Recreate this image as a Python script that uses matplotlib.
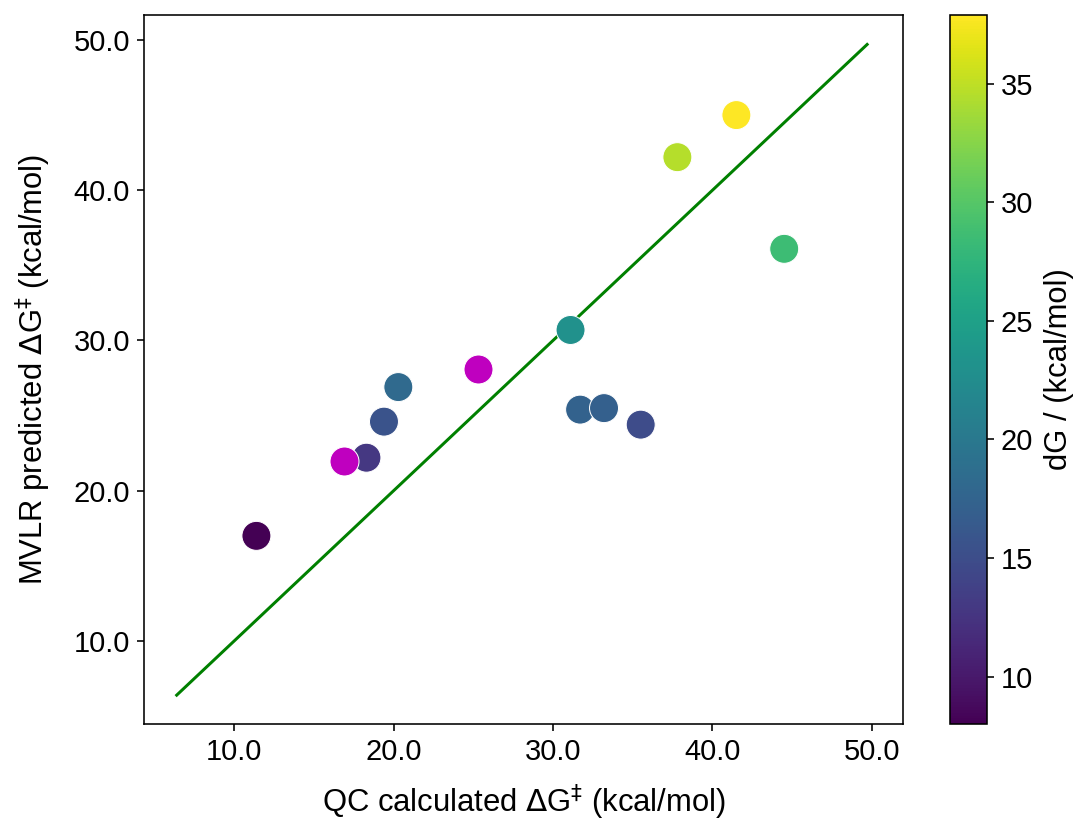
import numpy as np
import matplotlib
matplotlib.use("Agg")
import matplotlib.pyplot as plt
from matplotlib.ticker import FormatStrFormatter

plt.rcParams['font.family'] = ['Liberation Sans', 'DejaVu Sans']

# QC calculated vs MVLR predicted barriers (kcal/mol), coloured by dG
qc_dg = [11.4, 18.3, 19.4, 20.3, 31.1, 31.7, 33.2, 35.5, 37.8, 41.5, 44.5]
mvlr_dg = [17.0, 22.2, 24.6, 26.9, 30.7, 25.4, 25.5, 24.4, 42.2, 45.0, 36.1]
rxn_dg = [8.0, 12.8, 15.6, 18.2, 23.0, 17.3, 17.1, 14.8, 34.6, 37.9, 28.5]

# points without dG (magenta)
qc_extra = [16.9, 25.3]
mvlr_extra = [22.0, 28.1]

# parity line
parity = [6.4, 49.7]

fs = 14.5
lfs = 15.5

fig = plt.figure(figsize=(1078 / 144, 820 / 144), dpi=144)
ax = fig.add_axes([144 / 1078, 1 - 724 / 820, 759 / 1078, 709 / 820])
cax = fig.add_axes([950 / 1078, 1 - 724 / 820, 37 / 1078, 709 / 820])

ax.plot(parity, parity, color='green', lw=1.5, zorder=1)
sc = ax.scatter(qc_dg, mvlr_dg, c=rxn_dg, cmap='viridis', s=210,
                edgecolors='white', linewidths=0.5, zorder=2)
ax.scatter(qc_extra, mvlr_extra, color='m', s=210,
           edgecolors='white', linewidths=0.5, zorder=2)

ax.set_xticks([10, 20, 30, 40, 50])
ax.set_yticks([10, 20, 30, 40, 50])
ax.xaxis.set_major_formatter(FormatStrFormatter('%.1f'))
ax.yaxis.set_major_formatter(FormatStrFormatter('%.1f'))
ax.set_xlim(4.35, 51.95)
ax.set_ylim(4.48, 51.66)
ax.tick_params(labelsize=fs)
ax.set_xlabel('QC calculated $\\Delta$G$^‡$ (kcal/mol)', fontsize=lfs, labelpad=8)
ax.set_ylabel('MVLR predicted $\\Delta$G$^‡$ (kcal/mol)', fontsize=lfs, labelpad=10)

cb = fig.colorbar(sc, cax=cax)
cb.set_label('dG / (kcal/mol)', fontsize=lfs, labelpad=5)
cb.ax.tick_params(labelsize=fs)

fig.savefig('out.png', dpi=144)
